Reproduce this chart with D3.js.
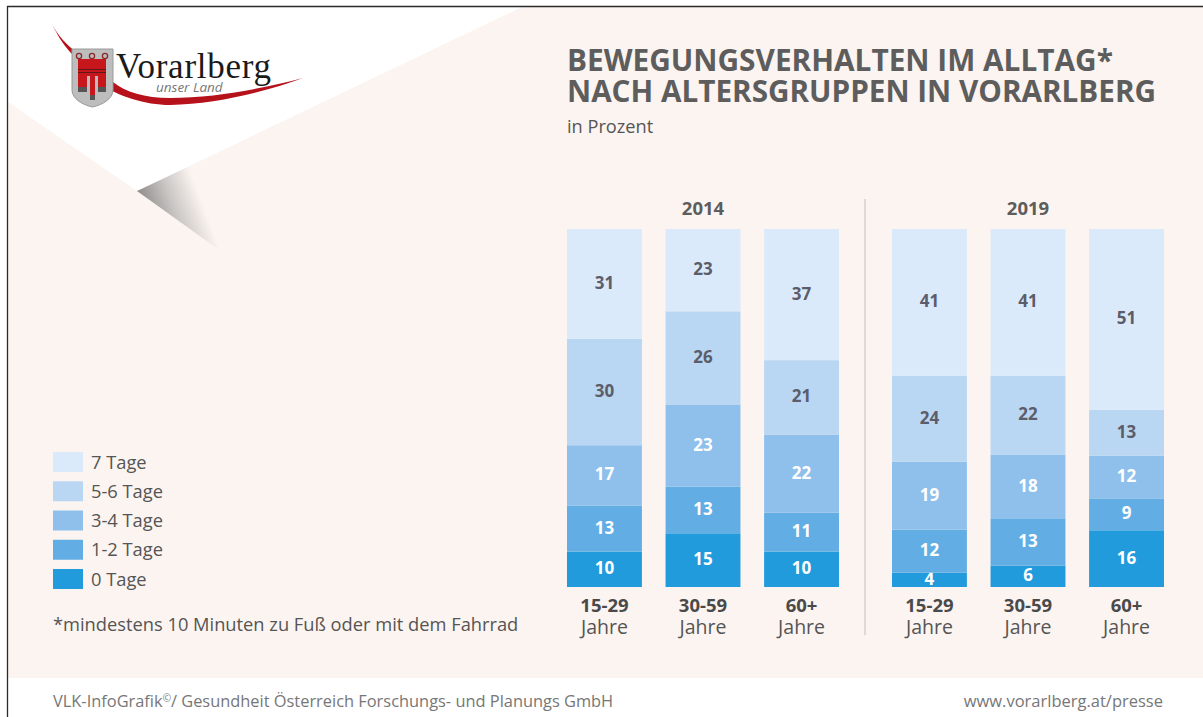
<!DOCTYPE html>
<html><head><meta charset="utf-8">
<script src="https://d3js.org/d3.v7.min.js"></script>
<style>html,body{margin:0;padding:0;background:#fff;overflow:hidden}svg{display:block}text{font-family:"Open Sans",sans-serif}</style>
</head><body><svg id="c" width="1203" height="717"></svg>
<script>
const years = ["2014","2019"];
const ageGroups = ["15-29","30-59","60+"];
const seriesNames = ["0 Tage","1-2 Tage","3-4 Tage","5-6 Tage","7 Tage"];
const seriesColors = ["#219bdc","#62aee4","#8fc0ec","#b9d7f3","#dbeafa"];
const labelColors = ["#ffffff","#ffffff","#ffffff","#5c5c6a","#5c5c6a"];
const values0 = [10,15,10,4,6,16];
const values12 = [13,13,11,12,13,9];
const values34 = [17,23,22,19,18,12];
const values56 = [30,26,21,24,22,13];
const values7 = [31,23,37,41,41,51];
const allSeries = [values0,values12,values34,values56,values7];
const rows = [];
years.forEach((yr,i)=>ageGroups.forEach((g,j)=>{
  const r={year:yr,group:g};
  const k=i*3+j;
  seriesNames.forEach((s,n)=>r[s]=allSeries[n][k]);
  rows.push(r);
}));
const svg=d3.select("#c");
const defs=svg.append("defs");
const grad=defs.append("linearGradient").attr("id","fold").attr("gradientUnits","userSpaceOnUse")
 .attr("x1",137).attr("y1",191).attr("x2",191).attr("y2",171);
grad.append("stop").attr("offset",0).attr("stop-color","#8f8d8b");
grad.append("stop").attr("offset",.5).attr("stop-color","#c9c6c4");
grad.append("stop").attr("offset",1).attr("stop-color","#fcf4f0");
// page
svg.append("rect").attr("width",1203).attr("height",717).attr("fill","#fff");
svg.append("rect").attr("x",8).attr("y",7).attr("width",1195).attr("height",671).attr("fill","#fcf4f0");
svg.append("path").attr("d","M8,102 L8,7 L522,7 L137,191 Z").attr("fill","#fff");
svg.append("path").attr("d","M137,191 L192,165 L222,252 Z").attr("fill","url(#fold)");
svg.append("path").attr("d","M7.5,717 L7.5,6.5 L1203,6.5").attr("fill","none").attr("stroke","#2a2a2a").attr("stroke-width",1.3);
// logo
const logo=svg.append("g");
logo.append("path").attr("d","M52,24 C58,36 66,44 76,52 L113,82 C125,92 145,98 170,98 C215,98 265,88 303,78 C265,92 215,104 170,105 C145,105 118,96 100,84 L70,52 C62,43 57,34 52,24 Z").attr("fill","#b5121b");
logo.append("path").attr("d","M72,49 L113,49 L113,90 C113,99 102,105 92.5,107 C83,105 72,99 72,90 Z").attr("fill","#bdbdbd").attr("stroke","#9a9a9a");
logo.append("path").attr("d","M78,59 L106,59 L106,92 L98,92 L98,76 L95,76 L95,100 L90,100 L90,76 L87,76 L87,92 L78,92 Z").attr("fill","#c8161d");
logo.selectAll("rect.st").data(["s1","s2"]).join("rect").attr("x",78).attr("width",28).attr("y",(d,i)=>69+i*3).attr("height",1).attr("fill","#5a1a1a");
logo.append("path").attr("d","M78,87 L87,87 L87,92 L78,92 Z M98,87 L106,87 L106,92 L98,92 Z M90,95 L95,95 L95,100 L90,100 Z").attr("fill","#555");
["r1","r2","r3"].forEach((d,i)=>logo.append("circle").attr("cx",79+i*13).attr("cy",56).attr("r",2.6).attr("fill","none").attr("stroke","#8a2a2a").attr("stroke-width",1.3));
logo.append("text").attr("x",116).attr("y",78).attr("font-size",35).attr("fill","#1a1a1a").style("font-family","'Liberation Serif',serif").attr("textLength",155).text("Vorarlberg");
logo.append("text").attr("x",156).attr("y",92).attr("font-size",13.5).attr("font-style","italic").attr("fill","#777").text("unser Land");
// titles
const txt=(x,y,s,size,fill,weight,anchor)=>svg.append("text").attr("x",x).attr("y",y).attr("font-size",size).attr("fill",fill).attr("font-weight",weight||400).attr("text-anchor",anchor||"start").text(s);
txt(567,71,"BEWEGUNGSVERHALTEN IM ALLTAG*",29.8,"#5d5d5d",700);
txt(567,102,"NACH ALTERSGRUPPEN IN VORARLBERG",29.7,"#5d5d5d",700);
txt(567,133,"in Prozent",18.2,"#555");
// scales
const outer=d3.scaleBand().domain(years).range([567,1164]).paddingInner(.163);
const inner=d3.scaleBand().domain(ageGroups).range([0,outer.bandwidth()]).paddingInner(.24);
const y=d3.scaleLinear().domain([0,1]).range([587,229]);
const stacked=d3.stack().keys(seriesNames).offset(d3.stackOffsetExpand)(rows);
const color=d3.scaleOrdinal(seriesNames,seriesColors);
const lab=d3.scaleOrdinal(seriesNames,labelColors);
const xOf=d=>outer(d.data.year)+inner(d.data.group);
const layers=svg.selectAll("g.layer").data(stacked).join("g").attr("class","layer").attr("fill",d=>color(d.key));
layers.selectAll("rect").data(d=>d).join("rect").attr("x",xOf).attr("width",inner.bandwidth())
 .attr("y",d=>y(d[1])).attr("height",d=>y(d[0])-y(d[1]));
layers.each(function(s){
  d3.select(this).selectAll("text").data(s).join("text")
   .attr("x",d=>xOf(d)+inner.bandwidth()/2).attr("y",d=>(y(d[0])+y(d[1]))/2+5)
   .attr("text-anchor","middle").attr("font-size",17).attr("font-weight",700)
   .attr("fill",lab(s.key)).text(d=>d.data[s.key]);
});
// year heads
years.forEach(yr=>txt(outer(yr)+outer.bandwidth()/2,215,yr,18.5,"#5d5d5d",700,"middle"));
svg.append("line").attr("x1",865).attr("x2",865).attr("y1",199).attr("y2",635).attr("stroke","#d6d2d0").attr("stroke-width",1.5);
// x labels
rows.forEach(r=>{
  const cx=outer(r.year)+inner(r.group)+inner.bandwidth()/2;
  txt(cx,612,r.group,18.5,"#4a4a4a",700,"middle");
  txt(cx,634,"Jahre",19.5,"#555",400,"middle");
});
// legend
const legY=d3.scalePoint().domain(seriesNames.slice().reverse()).range([452,569]);
seriesNames.forEach(s=>{
  svg.append("rect").attr("x",53).attr("y",legY(s)).attr("width",30).attr("height",20).attr("fill",color(s));
  txt(91,legY(s)+16.5,s,18.3,"#555");
});
txt(53,631,"*mindestens 10 Minuten zu Fuß oder mit dem Fahrrad",18.3,"#555");
const foot=txt(53,707,"VLK-InfoGrafik",16.4,"#777");
foot.append("tspan").attr("font-size",10).attr("dy",-5).text("©");
foot.append("tspan").attr("dy",5).text("/ Gesundheit Österreich Forschungs- und Planungs GmbH");
txt(1163,707,"www.vorarlberg.at/presse",16.5,"#777",400,"end");
</script></body></html>
